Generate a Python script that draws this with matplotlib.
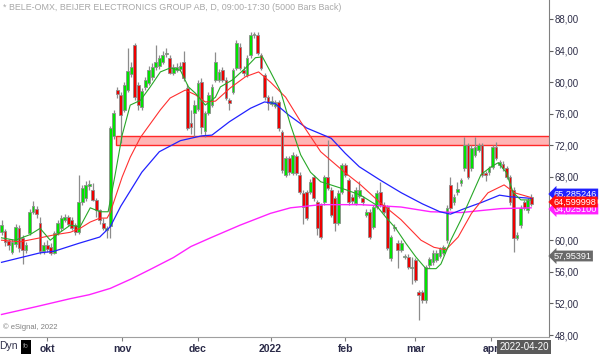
import matplotlib
matplotlib.use("Agg")
import matplotlib.pyplot as plt
from matplotlib.patches import Rectangle
from matplotlib.ticker import FuncFormatter

plt.rcParams['font.family'] = ['Liberation Sans', 'DejaVu Sans']

# === DATA (daily bars, index 0 = mid Sept 2021, last = 2022-04-20) ===
opens = [61.0, 61.2, 59.9, 58.5, 59.5, 61.6, 60.3, 58.8, 60.9, 63.6,
         64.0, 62.2, 58.6, 59.4, 59.2, 58.4, 60.9, 61.5, 62.6, 62.9,
         62.6, 61.9, 61.0, 64.8, 65.3, 66.8, 66.4, 65.1, 63.8, 62.2,
         61.3, 61.8, 73.2, 79.0, 78.4, 76.5, 79.0, 81.0, 84.7, 79.6,
         76.8, 79.4, 79.9, 80.6, 81.9, 82.0, 82.6, 83.6, 83.1, 81.2,
         81.6, 81.7, 82.6, 79.2, 74.8, 76.1, 76.6, 80.0, 73.8, 76.1,
         77.1, 80.3, 80.3, 81.5, 80.3, 77.7, 78.8, 81.8, 84.5, 81.6,
         80.9, 83.4, 86.0, 86.0, 83.4, 80.9, 78.1, 77.3, 77.0, 77.5,
         73.7, 68.3, 70.4, 68.5, 70.6, 68.3, 66.0, 66.1, 66.1, 68.0,
         64.8, 64.4, 64.8, 68.0, 66.4, 65.3, 62.2, 66.1, 69.5, 67.6,
         65.5, 64.7, 65.6, 65.3, 63.2, 63.6, 61.7, 64.2, 66.1, 64.5,
         64.2, 57.7, 61.6, 59.6, 58.8, 57.9, 57.9, 56.5, 57.5, 53.4,
         53.4, 52.4, 56.8, 57.2, 57.5, 58.0, 58.4, 60.0, 67.0, 64.8,
         66.1, 67.2, 69.1, 72.0, 69.1, 70.8, 71.4, 72.0, 68.5, 68.6,
         69.3, 71.8, 69.5, 69.7, 69.1, 68.0, 66.4, 60.3, 61.9, 64.8,
         63.8, 65.5]
highs = [62.6, 61.4, 60.2, 60.2, 62.0, 61.9, 60.6, 59.8, 64.0, 64.9,
         64.3, 63.0, 59.8, 60.0, 59.6, 61.2, 62.5, 63.2, 63.3, 63.2,
         62.9, 62.2, 68.2, 67.0, 67.5, 67.6, 67.2, 65.4, 64.0, 62.8,
         61.8, 74.5, 76.5, 79.4, 78.8, 80.0, 84.3, 82.5, 85.0, 80.0,
         79.3, 80.6, 82.0, 82.4, 84.7, 83.4, 84.0, 84.3, 83.5, 82.3,
         82.4, 82.5, 84.0, 79.8, 76.5, 77.8, 80.3, 80.5, 76.4, 78.8,
         79.8, 83.8, 81.7, 81.9, 80.6, 78.0, 81.8, 85.3, 84.9, 82.0,
         83.4, 86.3, 86.4, 86.3, 83.7, 81.2, 78.4, 78.3, 77.8, 77.8,
         74.0, 70.7, 70.7, 71.2, 70.9, 68.6, 66.3, 66.4, 67.7, 68.3,
         65.1, 64.7, 68.3, 72.7, 66.7, 65.6, 66.3, 69.8, 69.8, 67.9,
         65.8, 66.7, 67.5, 65.6, 63.9, 63.9, 64.5, 66.3, 67.4, 64.8,
         64.5, 60.7, 62.0, 60.0, 60.0, 58.3, 58.2, 57.9, 57.8, 53.7,
         53.7, 56.9, 57.9, 58.7, 58.7, 59.2, 59.4, 64.4, 68.0, 65.8,
         67.4, 67.9, 73.0, 72.3, 72.0, 73.0, 72.3, 72.3, 68.8, 69.4,
         72.1, 72.4, 70.2, 70.0, 69.4, 68.3, 66.7, 61.0, 64.4, 65.1,
         65.4, 65.8]
lows = [60.6, 59.3, 58.8, 58.2, 59.2, 58.5, 57.0, 58.4, 60.6, 63.3,
        62.8, 58.2, 58.3, 58.5, 58.1, 58.2, 60.6, 61.2, 62.3, 61.8,
        61.3, 60.6, 60.8, 64.5, 65.0, 66.3, 64.9, 63.0, 62.0, 61.3,
        60.3, 60.3, 72.8, 78.0, 72.3, 76.2, 78.7, 80.7, 77.8, 76.5,
        76.5, 79.0, 79.6, 80.3, 81.6, 81.7, 82.3, 83.2, 81.0, 80.9,
        81.3, 81.4, 80.2, 73.9, 73.5, 73.1, 76.3, 73.5, 73.1, 75.8,
        76.8, 80.0, 80.0, 80.0, 77.7, 76.5, 78.5, 81.5, 81.5, 80.8,
        80.6, 83.1, 85.6, 83.4, 81.5, 77.8, 76.5, 77.0, 76.7, 73.8,
        68.5, 68.0, 68.2, 68.2, 68.2, 65.8, 62.0, 62.5, 65.8, 65.0,
        60.7, 60.1, 64.5, 66.3, 62.9, 61.2, 61.9, 65.8, 68.0, 64.5,
        64.6, 64.4, 65.3, 64.5, 63.0, 60.1, 61.4, 63.9, 64.2, 63.3,
        58.7, 57.4, 61.2, 56.5, 58.5, 57.6, 56.3, 54.5, 54.7, 49.9,
        52.1, 52.1, 56.5, 56.9, 57.2, 57.7, 58.1, 59.7, 63.8, 64.5,
        65.7, 66.9, 68.8, 67.7, 68.8, 70.5, 71.1, 68.0, 67.5, 68.3,
        69.0, 70.1, 69.2, 68.8, 67.7, 64.5, 58.5, 60.0, 61.6, 63.8,
        63.5, 64.3]
closes = [61.9, 59.8, 59.4, 59.8, 61.7, 59.0, 58.8, 59.4, 63.6, 64.3,
          63.3, 58.6, 59.4, 58.9, 58.4, 60.9, 62.2, 62.8, 62.9, 62.1,
          61.6, 61.0, 64.8, 66.6, 67.0, 67.1, 65.1, 63.8, 62.5, 61.6,
          61.6, 74.2, 76.1, 78.5, 75.9, 79.6, 81.4, 81.9, 78.1, 77.1,
          78.9, 80.3, 81.5, 81.9, 82.6, 83.0, 83.4, 83.7, 81.2, 81.9,
          81.9, 82.0, 80.5, 74.2, 74.3, 77.1, 79.9, 74.3, 76.1, 78.4,
          79.4, 82.6, 81.3, 80.3, 78.0, 77.4, 81.5, 85.0, 81.8, 81.2,
          83.1, 86.0, 86.1, 83.7, 81.8, 78.1, 77.4, 77.6, 77.5, 74.2,
          68.9, 70.4, 68.6, 70.8, 68.5, 66.1, 64.2, 62.8, 67.4, 65.3,
          61.5, 60.4, 68.0, 66.6, 63.2, 62.2, 66.0, 69.5, 68.3, 64.8,
          64.9, 66.4, 66.4, 64.8, 63.6, 60.4, 64.2, 66.0, 64.5, 63.6,
          59.0, 60.4, 61.7, 58.8, 59.6, 58.0, 56.6, 56.6, 55.0, 53.1,
          52.4, 56.6, 57.6, 58.4, 58.4, 58.9, 59.1, 64.1, 64.1, 65.5,
          66.5, 67.6, 72.0, 68.0, 71.7, 71.8, 72.0, 68.3, 68.2, 69.1,
          71.8, 70.4, 69.9, 69.1, 68.0, 64.8, 60.3, 60.7, 64.1, 64.1,
          65.1, 64.6]

# moving averages: (bar index, value)
ma_fast_x = [0, 3.9, 8.1, 11, 13.9, 16.7, 19.6, 22.4, 25.3, 28.1, 30.4, 32.4, 34.4,
             36.7, 39.6, 42.4, 45.3, 48.1, 51, 53.3, 55.3, 58.1, 61, 62.4, 65.9,
             69.6, 72.4, 74.4, 76.7, 79.6, 82.4, 85.3, 88.1, 91, 93.9, 98.1, 102.4,
             106.7, 109.6, 112.4, 115.3, 118.1, 121, 123.9, 125.3, 128.1, 131,
             133.9, 136.7, 139.6, 141.6, 143.9, 145.9, 148.1, 151]
ma_fast_y = [60.3, 60.0, 60.7, 61.5, 60.0, 61.0, 61.9, 61.7, 64.1, 63.6, 63.6, 68.3, 73.3,
             77.1, 77.7, 79.4, 81.3, 81.8, 81.5, 79.4, 78.6, 77.1, 78.1, 79.4, 80.3,
             81.8, 83.1, 83.2, 81.3, 78.8, 74.6, 70.8, 68.6, 67.4, 67.0, 66.4, 65.7,
             64.5, 62.9, 61.5, 59.6, 57.9, 56.4, 56.4, 57.0, 60.0, 62.6,
             65.5, 68.3, 69.3, 69.8, 68.6, 66.0, 65.1, 65.1]
ma_mid_x = [0, 5.3, 11, 15.3, 19.6, 22.4, 25.3, 28.1, 30.1, 31, 34.4, 36.7, 39.6, 45.3,
            48.1, 52.4, 55.3, 58.1, 61, 65.3, 69.6, 73.3, 76.7, 81, 85.3, 91, 98.1,
            102.4, 108.1, 113.9, 119.6, 123.3, 126.7, 130.2, 134, 138.7, 143.3,
            146.3, 151]
ma_mid_y = [60.0, 59.8, 60.3, 60.7, 61.0, 61.5, 62.3, 62.8, 62.8, 63.5, 68.0, 70.5, 73.0, 76.5,
            78.0, 79.0, 78.4, 77.5, 77.6, 79.3, 80.7, 81.3, 80.0, 78.1, 75.0, 71.2, 68.5,
            67.0, 64.7, 62.6, 60.0, 59.1, 58.8, 60.4, 63.4, 66.0, 67.0,
            66.0, 65.4]
ma_slow_x = [0, 11, 15, 22, 28, 31, 34, 40, 45, 51, 57, 60, 65, 71, 75, 78, 82, 87,
             94, 98, 102, 108, 114, 120, 125, 128, 132, 137, 142, 145, 151]
ma_slow_y = [57.2, 58.4, 58.6, 59.6, 60.4, 61.7, 64.3, 68.6, 71.2, 72.6, 73.2, 73.3, 75.0,
             76.7, 77.5, 77.3, 75.8, 74.2, 72.9, 71.0, 69.3, 67.6, 66.0, 64.6, 63.6,
             63.3, 64.0, 64.8, 65.7, 65.5, 65.3]
ma_long_x = [0, 10, 19.6, 25, 31, 37, 42.4, 49, 54, 59.6, 68, 76.7, 82.4, 91, 102.4,
             113.9, 122.4, 131, 142.4, 151]
ma_long_y = [50.6, 51.6, 52.6, 53.1, 53.9, 55.1, 56.3, 57.8, 59.2, 60.3, 61.9, 63.4, 64.1,
             64.5, 64.5, 64.2, 63.6, 63.5, 64.0, 64.1]

zone_lo, zone_hi, zone_start = 72.05, 73.2, 32.7

month_pos = [13, 34.4, 55.9, 76.7, 98, 118, 139.6]
month_lbl = ['okt', 'nov', 'dec', '2022', 'feb', 'mar', 'apr']

price_ticks = [48, 52, 56, 60, 64, 68, 72, 76, 80, 84, 88]

# === FIGURE ===
W, H = 600, 355
fig = plt.figure(figsize=(W / 100, H / 100), dpi=100)
ax = fig.add_axes([0, 18 / H, 549 / W, 337 / H])
ax.set_xlim(-0.43, 156.1)
ax.set_ylim(47.75, 90.4)

# resistance zone
ax.add_patch(Rectangle((zone_start, zone_lo), 200, zone_hi - zone_lo,
                       facecolor='#ffb4b4', edgecolor='#ff2828', lw=1, zorder=1))

# candles
n = len(closes)
idx = list(range(n))
ax.vlines(idx, lows, highs, color='#8c8c8c', lw=0.9, zorder=2)
bottoms = [min(o, c) for o, c in zip(opens, closes)]
heights = [max(abs(c - o), 0.08) for o, c in zip(opens, closes)]
cols = ['#00e400' if c >= o else '#ee0000' for o, c in zip(opens, closes)]
ax.bar(idx, heights, bottom=bottoms, width=0.8, color=cols,
       edgecolor='#8c8c8c', linewidth=0.6, zorder=3)

# moving averages
ax.plot(ma_long_x, ma_long_y, color='#ff22ff', lw=1.0, zorder=4)
ax.plot(ma_slow_x, ma_slow_y, color='#2222ff', lw=0.9, zorder=4)
ax.plot(ma_mid_x, ma_mid_y, color='#ff3030', lw=0.8, zorder=4)
ax.plot(ma_fast_x, ma_fast_y, color='#28a828', lw=0.8, zorder=4)

# axes styling
for s in ['top', 'left']:
    ax.spines[s].set_visible(False)
ax.spines['right'].set_color('#808080')
ax.spines['bottom'].set_color('#a0a0a0')
ax.yaxis.tick_right()
ax.set_yticks(price_ticks)
ax.yaxis.set_major_formatter(FuncFormatter(lambda v, p: f"{v:.2f}".replace('.', ',')))
ax.tick_params(axis='y', direction='out', length=3, width=0.8, color='#606060',
               labelsize=7, labelcolor='#30304a', pad=1)
ax.set_xticks(month_pos)
ax.set_xticklabels(month_lbl, fontweight='bold')
ax.tick_params(axis='x', direction='out', length=3, width=0.8, color='#808080',
               labelsize=7.5, labelcolor='#2a2a48', pad=2)


def px(x, y):
    return x / W, 1 - y / H


fig.text(*px(3, 7), '* BELE-OMX, BEIJER ELECTRONICS GROUP AB, D, 09:00-17:30 (5000 Bars Back)',
         fontsize=6.4, color='#a8a8a8', va='center', ha='left')
fig.text(*px(3, 327), '\u00a9 eSignal, 2022', fontsize=5.5, color='#808080',
         va='center', ha='left')

# last value boxes on the price scale (they overlap on the original too)
boxes = [(194, '65,285246', '#2020ff'), (209, '64,025100', '#ff20ff'),
         (202, '64,599998', '#ff1010'), (256, '57,95391', '#6a6a6a')]
for yy, txt, c in boxes:
    fig.text(*px(554, yy), txt, fontsize=6.6, color='white', va='center', ha='left',
             bbox=dict(boxstyle='larrow,pad=0.1', fc=c, ec='none'))

# bottom bar bits
fig.text(*px(-1, 346), 'Dyn', fontsize=7.5, color='#30304a', va='center', ha='left')
fig.patches.append(Rectangle((21 / W, 1 - 354 / H), 10 / W, 14 / H,
                             transform=fig.transFigure, fc='black', ec='none'))
fig.text(*px(26, 347), 'fo', fontsize=5, color='#909090', va='center', ha='center')
fig.text(*px(524, 347), '2022-04-20', fontsize=7, color='white', va='center', ha='center',
         bbox=dict(boxstyle='square,pad=0.2', fc='#5a5a5a', ec='none'))

fig.savefig('out.png', dpi=100)
